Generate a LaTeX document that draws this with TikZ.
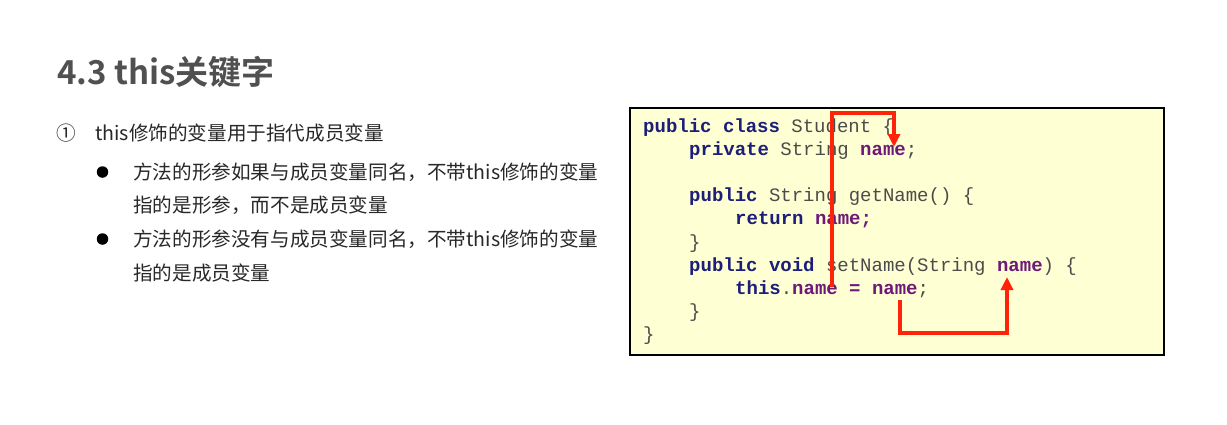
\documentclass[tikz,border=0pt]{standalone}
\usepackage{fontspec}
\usetikzlibrary{arrows.meta}
\newfontfamily\cjkbold{Noto Sans CJK SC Bold}
\newfontfamily\cjk{Noto Sans CJK SC}
\newfontfamily\codefont{Liberation Mono}
\definecolor{titlegray}{RGB}{80,80,80}
\definecolor{bodygray}{RGB}{40,40,40}
\definecolor{kwblue}{RGB}{28,30,120}
\definecolor{idpurple}{RGB}{110,25,120}
\definecolor{plaingray}{RGB}{75,75,75}
\definecolor{codefill}{RGB}{255,255,212}
\definecolor{arrowred}{RGB}{255,35,10}
\newcommand{\kw}[1]{{\bfseries\color{kwblue}#1}}
\newcommand{\idn}[1]{{\bfseries\color{idpurple}#1}}
\tikzset{
  titletext/.style={anchor=base west, inner sep=0pt, font=\cjkbold\fontsize{33}{38}\selectfont, text=titlegray},
  bodytext/.style={anchor=base west, inner sep=0pt, font=\cjk\fontsize{19.6}{24}\selectfont, text=bodygray},
  codeline/.style={anchor=base west, inner sep=0pt, font=\codefont\fontsize{19}{23}\selectfont, text=plaingray},
  bulletdot/.style={circle, fill=black, inner sep=0pt, minimum size=11.5pt},
  codebox/.style={draw=black, line width=2pt, fill=codefill},
  redarrow/.style={draw=arrowred, line width=3.5pt, line join=miter, -{Triangle[length=13pt,width=12pt]}}
}
\begin{document}
\begin{tikzpicture}[x=1pt,y=-1pt]
\useasboundingbox[fill=white] (0,0) rectangle (1227,424);
% title
\node[titletext] (title) at (57,84) {4.3 this关键字};
% body
\node[bodytext] (num1) at (56,140.4) {①};
\node[bodytext] (item1) at (95,140.4) {this修饰的变量用于指代成员变量};
\node[bulletdot] (b1) at (102.5,172) {};
\node[bodytext] (s1a) at (133,179.4) {方法的形参如果与成员变量同名，不带this修饰的变量};
\node[bodytext] (s1b) at (133,212.4) {指的是形参，而不是成员变量};
\node[bulletdot] (b2) at (102.5,239) {};
\node[bodytext] (s2a) at (133,246.4) {方法的形参没有与成员变量同名，不带this修饰的变量};
\node[bodytext] (s2b) at (133,280.4) {指的是成员变量};
% code box
\draw[codebox] (630,108) rectangle (1164,355);
\node[codeline] (c1) at (643,132.5) {\kw{public class} Student \{};
\node[codeline] (c2) at (689,155.6) {\kw{private} String \idn{name};};
\node[codeline] (c4) at (689,201.8) {\kw{public} String getName() \{};
\node[codeline] (c5) at (735,224.9) {\kw{return} \idn{name;}};
\node[codeline] (c6) at (689,248) {\}};
\node[codeline] (c7) at (689,271.1) {\kw{public void} setName(String \idn{name}) \{};
\node[codeline] (c8) at (735,294.2) {\kw{this}.\idn{name = name};};
\node[codeline] (c9) at (689,317.3) {\}};
\node[codeline] (c10) at (643,340.4) {\}};
% arrows
\coordinate (a1s) at (832,287);
\coordinate (a1c) at (894,113);
\coordinate (a1e) at (894,147);
\draw[redarrow] (a1s) |- (a1c) -- (a1e);
\coordinate (a2s) at (900,300);
\coordinate (a2c) at (1007,333);
\coordinate (a2e) at (1007,277);
\draw[redarrow] (a2s) |- (a2c) -- (a2e);
\end{tikzpicture}
\end{document}
